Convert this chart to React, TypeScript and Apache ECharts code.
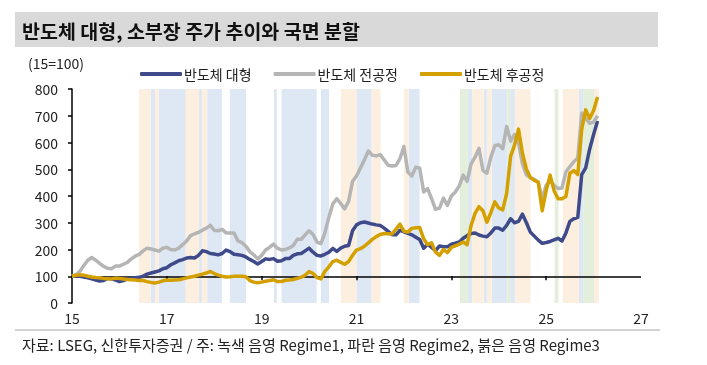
import React, { useEffect, useRef } from 'react';
import * as echarts from 'echarts';

const FONT = '"Noto Sans CJK KR", "Noto Sans", sans-serif';
const START_YEAR = 15; // monthly data from Jan 2015
const seriesNames = ['반도체 대형', '반도체 전공정', '반도체 후공정'];
const seriesColors = ['#3f4a8a', '#b5b5b5', '#d4a000'];
const xTickValues = [17, 19, 21, 23, 25];
const BASE_LEVEL = 100;

const largeCap = [
  100, 102, 100, 97, 94, 90, 86, 82, 84, 92, 90, 86,
  80, 84, 90, 92, 94, 96, 100, 108, 112, 116, 120, 128,
  132, 143, 150, 158, 162, 168, 170, 168, 178, 195, 192, 185,
  183, 180, 185, 198, 192, 182, 180, 178, 172, 163, 155, 146,
  155, 165, 163, 166, 156, 158, 166, 166, 178, 184, 185, 195,
  205, 190, 178, 176, 182, 190, 204, 193, 205, 212, 215, 270,
  292, 300, 303, 299, 295, 292, 290, 280, 268, 255, 255, 272,
  266, 260, 255, 246, 237, 205, 220, 208, 196, 213, 210, 210,
  220, 224, 228, 242, 252, 260, 262, 254, 250, 248, 262, 280,
  280, 272, 290, 315, 300, 305, 332, 300, 265, 250, 235, 223,
  226, 230, 236, 242, 232, 262, 305, 315, 320, 480, 505, 575, 630, 680,
];

const frontEnd = [
  100, 105, 119, 140, 160, 170, 160, 148, 137, 130, 128, 138,
  138, 145, 152, 165, 175, 182, 195, 205, 202, 198, 194, 205,
  208, 200, 198, 205, 218, 232, 252, 258, 264, 272, 280, 290,
  272, 270, 275, 262, 262, 262, 232, 226, 212, 192, 180, 165,
  178, 198, 208, 220, 205, 198, 200, 206, 215, 238, 238, 255,
  270, 256, 228, 222, 262, 320, 370, 390, 372, 352, 380, 455,
  475, 505, 535, 568, 552, 550, 555, 535, 515, 512, 514, 540,
  585, 490, 475, 508, 504, 415, 428, 390, 350, 355, 392, 365,
  400, 415, 438, 478, 455, 520, 545, 578, 496, 485, 545, 588,
  592, 577, 660, 605, 630, 598, 520, 479, 468, 462, 450, 390,
  440, 455, 440, 428, 430, 490, 510, 528, 542, 710, 690, 672, 676, 700,
];

const backEnd = [
  100, 104, 106, 104, 100, 97, 95, 94, 92, 91, 90, 93,
  92, 90, 88, 87, 86, 84, 84, 80, 77, 75, 78, 83,
  86, 85, 86, 87, 90, 94, 97, 100, 104, 108, 112, 118,
  110, 104, 100, 97, 98, 100, 100, 100, 98, 84, 78, 76,
  78, 81, 84, 87, 80, 80, 85, 86, 88, 92, 96, 104,
  118, 110, 95, 90, 118, 135, 155, 160, 152, 145, 155, 178,
  198, 203, 212, 225, 238, 248, 256, 260, 259, 258, 276, 295,
  268, 265, 279, 281, 282, 240, 218, 225, 190, 178, 200, 188,
  208, 214, 220, 228, 218, 290, 335, 360, 345, 302, 338, 378,
  355, 348, 410, 548, 590, 650, 560, 500, 470, 458, 452, 345,
  420, 478, 420, 390, 390, 398, 485, 495, 480, 650, 722, 690, 720, 770,
];

// Regime shading periods (year, 2-digit decimal)
const regime1Bands = [[23.18, 23.35], [24.18, 24.24], [25.18, 25.26], [25.78, 26.01]];
const regime2Bands = [
  [16.66, 16.75], [16.83, 17.4], [17.68, 17.74], [17.85, 18.16], [18.33, 18.67],
  [19.26, 19.32], [19.42, 20.16], [20.25, 20.42], [21.0, 21.32], [22.1, 22.33],
  [23.35, 23.44], [23.68, 23.75], [23.85, 24.18], [24.24, 24.34], [25.69, 25.78],
];
const regime3Bands = [
  [16.41, 16.66], [16.75, 16.83], [17.4, 17.68], [17.74, 17.85], [20.67, 21.0],
  [21.32, 21.51], [22.0, 22.1], [23.44, 23.68], [23.75, 23.85], [24.34, 24.67],
  [25.35, 25.69], [26.01, 26.11],
];
const regimeColors = ['#e3efda', '#dde8f4', '#fcefe0'];

export default function App() {
  const ref = useRef<HTMLDivElement>(null);
  useEffect(() => {
    const chart = echarts.init(ref.current!, null, { renderer: 'svg' });
    const toPts = (arr: number[]) => arr.map((v, i) => [START_YEAR + i / 12, v]);
    const bands = (list: number[][], color: string) =>
      list.map(([a, b]) => [{ xAxis: a, itemStyle: { color } }, { xAxis: b }]);
    const gridTop = 89;
    const gridBottom = 62;
    const gridH = 365 - gridTop - gridBottom;
    const yMax = 800;
    const tickLen = (4 * yMax) / gridH; // 4px expressed in value units

    chart.setOption({
      animation: false,
      textStyle: { fontFamily: FONT },
      grid: { left: 72, right: 66, top: gridTop, bottom: gridBottom, containLabel: false },
      legend: {
        left: 135,
        top: 62,
        itemWidth: 42,
        itemHeight: 4,
        itemGap: 22,
        icon: 'roundRect',
        data: seriesNames,
        textStyle: { fontSize: 14, color: '#222', fontFamily: FONT, padding: [0, 0, 0, -3] },
      },
      xAxis: {
        type: 'value', min: 15, max: 27, interval: 2,
        axisLine: { show: false }, axisTick: { show: false }, splitLine: { show: false },
        axisLabel: { fontSize: 14, color: '#222', margin: 8, fontFamily: FONT },
      },
      yAxis: {
        type: 'value', min: 0, max: yMax, interval: 100, z: 5,
        axisLine: { show: true, lineStyle: { color: '#000', width: 1.5 } },
        axisTick: { show: true, length: 4, lineStyle: { color: '#000', width: 1.5 } },
        splitLine: { show: false },
        axisLabel: { fontSize: 14, color: '#222', margin: 14, fontFamily: FONT },
      },
      series: [
        {
          name: 'bands', type: 'line', data: [], z: 1, silent: true,
          markArea: {
            silent: true,
            data: [
              ...bands(regime1Bands, regimeColors[0]),
              ...bands(regime2Bands, regimeColors[1]),
              ...bands(regime3Bands, regimeColors[2]),
            ],
          },
        },
        {
          name: 'baseline', type: 'line', data: [], z: 3, silent: true,
          markLine: {
            silent: true,
            symbol: 'none',
            label: { show: false },
            lineStyle: { color: '#000', width: 1.5, type: 'solid' },
            data: [
              [{ coord: [15, BASE_LEVEL] }, { coord: [27, BASE_LEVEL] }],
              ...xTickValues.map((t) => [{ coord: [t, BASE_LEVEL] }, { coord: [t, BASE_LEVEL - tickLen] }]),
            ],
          },
        },
        ...[largeCap, frontEnd, backEnd].map((arr, k) => ({
          name: seriesNames[k],
          type: 'line',
          data: toPts(arr),
          showSymbol: false,
          z: 6,
          color: seriesColors[k],
          lineStyle: { width: 3.5, color: seriesColors[k], join: 'round' },
        })),
      ],
      graphic: [
        { type: 'rect', shape: { x: 15, y: 12, width: 643, height: 35 }, style: { fill: '#d9d9d9' } },
        {
          type: 'text', x: 22, y: 30,
          style: { text: '반도체 대형, 소부장 주가 추이와 국면 분할', fontSize: 19.5, fontWeight: 'bold', fontFamily: FONT, fill: '#111', verticalAlign: 'middle' },
        },
        {
          type: 'text', x: 28, y: 63,
          style: { text: '(15=100)', fontSize: 14, fontFamily: FONT, fill: '#222', verticalAlign: 'middle' },
        },
        { type: 'line', shape: { x1: 15, y1: 330, x2: 660, y2: 330 }, style: { stroke: '#a6a6a6', lineWidth: 1 } },
        {
          type: 'text', x: 22, y: 344,
          style: { text: '자료: LSEG, 신한투자증권 / 주: 녹색 음영 Regime1, 파란 음영 Regime2, 붉은 음영 Regime3', fontSize: 15, fontFamily: FONT, fill: '#222', verticalAlign: 'middle' },
        },
      ],
    });
    return () => chart.dispose();
  }, []);
  return <div ref={ref} style={{ position: 'fixed', left: 0, top: 0, width: 707, height: 365 }} />;
}
